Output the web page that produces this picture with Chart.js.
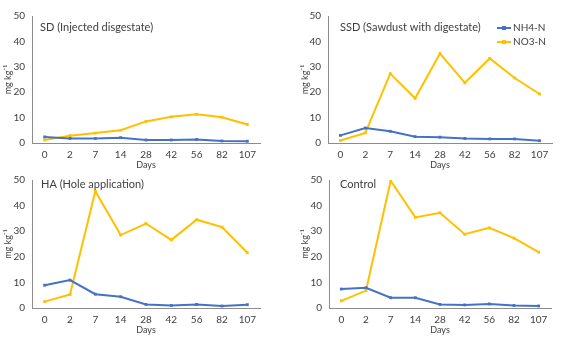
<!DOCTYPE html>
<html>
<head>
<meta charset="utf-8">
<script src="https://cdn.jsdelivr.net/npm/chart.js@4.4.1/dist/chart.umd.min.js"></script>
<style>
  body { margin: 0; background: #fff; }
  #wrap { position: relative; width: 564px; height: 339px; }
  canvas { position: absolute; }
</style>
</head>
<body>
<div id="wrap">
  <canvas id="c1" width="282" height="170" style="left:0;top:0"></canvas>
  <canvas id="c2" width="282" height="170" style="left:282px;top:0"></canvas>
  <canvas id="c3" width="282" height="170" style="left:0;top:165px"></canvas>
  <canvas id="c4" width="282" height="170" style="left:282px;top:165px"></canvas>
</div>
<script>
// Kategori hari
const days = ["0", "2", "7", "14", "28", "42", "56", "82", "107"];

// SD (Injected disgestate)
const sdNH4 = [2.4, 1.8, 1.8, 2.1, 1.2, 1.2, 1.4, 0.8, 0.7];
const sdNO3 = [1.2, 2.9, 3.9, 5.0, 8.5, 10.3, 11.3, 10.1, 7.3];

// SSD (Sawdust with digestate)
const ssdNH4 = [3.0, 5.9, 4.6, 2.5, 2.3, 1.8, 1.6, 1.6, 0.9];
const ssdNO3 = [1.0, 4.0, 27.3, 17.6, 35.2, 23.7, 33.3, 25.6, 19.3];

// HA (Hole application)
const haNH4 = [8.9, 10.9, 5.4, 4.4, 1.4, 1.0, 1.4, 0.8, 1.3];
const haNO3 = [2.5, 5.3, 45.6, 28.5, 33.0, 26.6, 34.5, 31.6, 21.6];

// Control
const ctrlNH4 = [7.4, 7.9, 4.0, 4.0, 1.4, 1.2, 1.6, 1.0, 0.8];
const ctrlNO3 = [2.8, 6.8, 49.7, 35.4, 37.2, 28.8, 31.3, 27.3, 21.8];

// Sumbu Y
const yMin = 0;
const yMax = 50;
const yStep = 10;

const seriesNames = ["NH4-N", "NO3-N"];
const blue = "#4472C4";
const orange = "#FFC000";
const FONT = "Lato, 'Liberation Sans', sans-serif";

// Plugin: judul di dalam area plot + legenda opsional
const panelText = {
  id: "panelText",
  afterDraw(chart, args, opts) {
    const ctx = chart.ctx;
    const a = chart.chartArea;
    ctx.save();
    ctx.font = "11px " + FONT;
    ctx.fillStyle = "#404040";
    ctx.textBaseline = "middle";
    ctx.textAlign = "left";
    ctx.fillText(opts.title, a.left + opts.tx, a.top + opts.ty);
    if (opts.legend) {
      chart.data.datasets.forEach((ds, i) => {
        const x = opts.lx, y = opts.ly + i * 14;
        ctx.strokeStyle = ds.borderColor;
        ctx.lineWidth = 2;
        ctx.beginPath();
        ctx.moveTo(x, y);
        ctx.lineTo(x + 14, y);
        ctx.stroke();
        ctx.fillStyle = ds.borderColor;
        ctx.fillRect(x + 5, y - 2, 4, 4);
        ctx.fillStyle = "#404040";
        ctx.font = "10px " + FONT;
        ctx.fillText(ds.label, x + 16, y);
      });
    }
    ctx.restore();
  }
};

function makePanel(id, nh4, no3, pad, axisW, text) {
  const ctx = document.getElementById(id).getContext("2d");
  new Chart(ctx, {
    type: "line",
    data: {
      labels: days,
      datasets: [
        { label: seriesNames[0], data: nh4, borderColor: blue, backgroundColor: blue },
        { label: seriesNames[1], data: no3, borderColor: orange, backgroundColor: orange }
      ]
    },
    options: {
      responsive: false,
      animation: false,
      layout: { padding: pad },
      elements: {
        line: { borderWidth: 2, tension: 0 },
        point: { pointStyle: "rect", radius: 2, borderWidth: 0 }
      },
      plugins: {
        legend: { display: false },
        tooltip: { enabled: false },
        panelText: text
      },
      scales: {
        x: {
          offset: true,
          grid: { display: false, drawTicks: false, offset: true },
          border: { display: true, color: "#8c8c8c", width: 1 },
          ticks: { color: "#404040", font: { family: FONT, size: 10 }, padding: 6, maxRotation: 0 },
          title: { display: true, text: "Days", color: "#404040", font: { family: FONT, size: 9 }, padding: 0 },
          afterFit(scale) { scale.height = 27; }
        },
        y: {
          min: yMin,
          max: yMax,
          grid: { display: false, drawTicks: false },
          border: { display: true, color: "#8c8c8c", width: 1 },
          ticks: { stepSize: yStep, color: "#404040", font: { family: FONT, size: 10 }, padding: 7 },
          title: { display: true, text: "mg kg\u207B\u00B9", color: "#404040", font: { family: FONT, size: 9 }, padding: 0 },
          afterFit(scale) { scale.width = axisW; }
        }
      }
    },
    plugins: [panelText]
  });
}

document.addEventListener("DOMContentLoaded", function () {
  makePanel("c1", sdNH4, sdNO3, { left: 3, right: 22, top: 16, bottom: 0 }, 29,
    { title: "SD (Injected disgestate)", tx: 8, ty: 11 });
  makePanel("c2", ssdNH4, ssdNO3, { left: 18, right: 12, top: 16, bottom: 0 }, 28,
    { title: "SSD (Sawdust with digestate)", tx: 12, ty: 11, legend: true, lx: 215, ly: 28 });
  makePanel("c3", haNH4, haNO3, { left: 3, right: 22, top: 15, bottom: 0 }, 29,
    { title: "HA (Hole application)", tx: 9, ty: 4 });
  makePanel("c4", ctrlNH4, ctrlNO3, { left: 18, right: 13, top: 15, bottom: 0 }, 29,
    { title: "Control", tx: 11, ty: 4 });
});
</script>
</body>
</html>
